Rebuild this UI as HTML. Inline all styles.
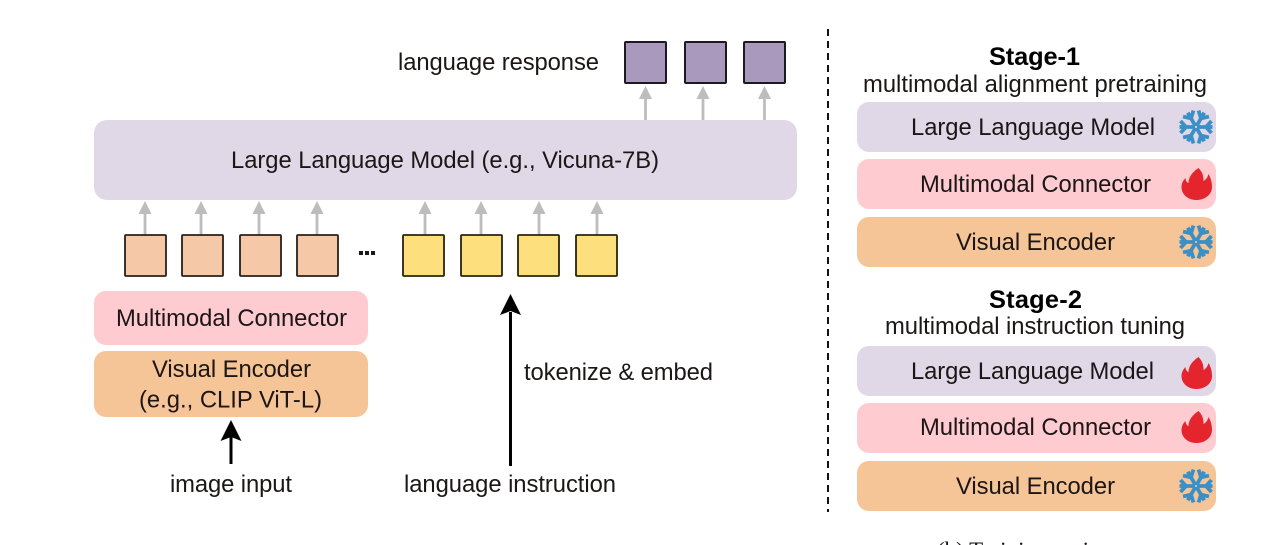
<!DOCTYPE html>
<html>
<head>
<meta charset="utf-8">
<style>
html,body{margin:0;padding:0;background:#fff;width:1280px;height:545px;overflow:hidden}
svg{display:block}
text{font-family:"Liberation Sans",sans-serif;fill:#1c1616}
.t{font-size:23.8px}
.b{font-size:25.4px;font-weight:bold;fill:#000}
</style>
</head>
<body>
<svg width="1280" height="545" viewBox="0 0 1280 545" xmlns="http://www.w3.org/2000/svg">
<defs>
<g id="arm"><path d="M1 0H16.500M15.500 -6L10 0L15.500 6"/></g>
<g id="snow" fill="none" stroke="#3a8fc6" stroke-width="3.800" stroke-linecap="butt" stroke-linejoin="miter">
<use href="#arm"/>
<use href="#arm" transform="rotate(60)"/>
<use href="#arm" transform="rotate(120)"/>
<use href="#arm" transform="rotate(180)"/>
<use href="#arm" transform="rotate(240)"/>
<use href="#arm" transform="rotate(300)"/>
</g>
<path id="fire" fill="#e5252e" d="M2 -16C7 -11 7 -6 7 -3C9 -4 11 -6 12 -10C15 -5 15.500 0 15.500 3C15.500 11 8 16 0 16C-8 16 -15 11 -15 3C-15 -1 -13 -4 -11 -6C-11 -3 -9 -1 -8 -1C-8 -7 -4 -12 2 -16Z"/>
<g id="ga"><path d="M0 0V-24" stroke="#bdbdbd" stroke-width="2.800" fill="none"/><path d="M0 -34L-6.500 -21H6.500Z" fill="#bdbdbd"/></g>
</defs>

<!-- language response -->
<text class="t" x="398" y="70" textLength="201">language response</text>
<g fill="#a899bd" stroke="#1c1a20" stroke-width="2">
<rect x="625" y="42" width="41" height="41" rx="1"/>
<rect x="685" y="42" width="41" height="41" rx="1"/>
<rect x="744" y="42" width="41" height="41" rx="1"/>
</g>
<use href="#ga" x="645.500" y="120"/>
<use href="#ga" x="703" y="120"/>
<use href="#ga" x="764.500" y="120"/>

<!-- LLM -->
<rect x="94" y="120" width="703" height="80" rx="13" fill="#e0d8e6"/>
<text class="t" x="231" y="168" textLength="428">Large Language Model (e.g., Vicuna-7B)</text>

<!-- gray arrows -->
<use href="#ga" x="145" y="235"/>
<use href="#ga" x="201" y="235"/>
<use href="#ga" x="259" y="235"/>
<use href="#ga" x="317" y="235"/>
<use href="#ga" x="425" y="235"/>
<use href="#ga" x="481" y="235"/>
<use href="#ga" x="539" y="235"/>
<use href="#ga" x="597" y="235"/>

<!-- tokens -->
<g fill="#f5c9a8" stroke="#2a2018" stroke-width="1.800">
<rect x="125" y="235" width="41" height="41" rx="1"/>
<rect x="182" y="235" width="41" height="41" rx="1"/>
<rect x="240" y="235" width="41" height="41" rx="1"/>
<rect x="297" y="235" width="41" height="41" rx="1"/>
</g>
<g fill="#1a1a1a">
<rect x="359" y="251" width="4" height="4"/><rect x="365" y="251" width="4" height="4"/><rect x="371" y="251" width="4" height="4"/>
</g>
<g fill="#fedf7e" stroke="#2a2410" stroke-width="1.800">
<rect x="403" y="235" width="41" height="41" rx="1"/>
<rect x="461" y="235" width="41" height="41" rx="1"/>
<rect x="518" y="235" width="41" height="41" rx="1"/>
<rect x="576" y="235" width="41" height="41" rx="1"/>
</g>

<!-- left stack -->
<rect x="94" y="291" width="274" height="54" rx="12" fill="#fecbd1"/>
<text class="t" x="116" y="326" textLength="231">Multimodal Connector</text>
<rect x="94" y="351" width="274" height="66" rx="12" fill="#f5c598"/>
<text class="t" x="152" y="377" textLength="159">Visual Encoder</text>
<text class="t" x="139" y="407.500" textLength="183">(e.g., CLIP ViT-L)</text>

<!-- black arrows -->
<path d="M231 464V436" stroke="#000" stroke-width="3" fill="none"/>
<path d="M231 420L220.500 441L231 437L241.500 441Z" fill="#000"/>
<path d="M510.500 466V312" stroke="#000" stroke-width="3" fill="none"/>
<path d="M510.500 294L500 315L510.500 311L521 315Z" fill="#000"/>

<text class="t" x="170" y="492" textLength="122">image input</text>
<text class="t" x="404" y="492" textLength="212">language instruction</text>
<text class="t" x="524" y="380" textLength="189">tokenize &amp; embed</text>

<!-- divider -->
<path d="M828 29V512" stroke="#111" stroke-width="2" stroke-dasharray="7 5" fill="none"/>

<!-- Stage 1 -->
<text class="b" x="989" y="65" textLength="91">Stage-1</text>
<text class="t" x="863" y="92" textLength="344">multimodal alignment pretraining</text>
<rect x="857" y="102" width="359" height="50" rx="12" fill="#e0d8e6"/>
<text class="t" x="911" y="135" textLength="244">Large Language Model</text>
<use href="#snow" x="1196" y="127"/>
<rect x="857" y="159" width="359" height="50" rx="12" fill="#fecbd1"/>
<text class="t" x="920" y="192" textLength="231">Multimodal Connector</text>
<use href="#fire" x="1196.500" y="184"/>
<rect x="857" y="217" width="359" height="50" rx="12" fill="#f5c598"/>
<text class="t" x="956" y="250" textLength="159">Visual Encoder</text>
<use href="#snow" x="1196" y="242"/>

<!-- Stage 2 -->
<text class="b" x="989" y="308" textLength="93">Stage-2</text>
<text class="t" x="885" y="334" textLength="300">multimodal instruction tuning</text>
<rect x="857" y="346" width="359" height="50" rx="12" fill="#e0d8e6"/>
<text class="t" x="911" y="379" textLength="243">Large Language Model</text>
<use href="#fire" x="1196.500" y="373"/>
<rect x="857" y="403" width="359" height="50" rx="12" fill="#fecbd1"/>
<text class="t" x="920" y="435" textLength="231">Multimodal Connector</text>
<use href="#fire" x="1196.500" y="427"/>
<rect x="857" y="461" width="359" height="50" rx="12" fill="#f5c598"/>
<text class="t" x="956" y="494" textLength="159">Visual Encoder</text>
<use href="#snow" x="1196" y="486"/>

<!-- cut caption -->
<text x="1027" y="558" text-anchor="middle" style="font-family:'Liberation Serif',serif;font-size:23px">(b) Training regime</text>
</svg>
</body>
</html>
